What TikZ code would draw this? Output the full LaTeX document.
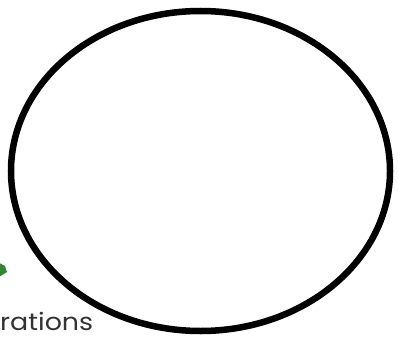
\documentclass[tikz,border=0pt]{standalone}
\usepackage{fontspec}
\setmainfont{Poppins}
\newfontfamily\lblfont[FakeStretch=1.12]{Poppins}
\usetikzlibrary{shapes.geometric}
\begin{document}
\begin{tikzpicture}[x=1pt,y=1pt,
  ring/.style={draw=black,line width=6.5pt},
  lbl/.style={font=\lblfont\fontsize{24}{26}\selectfont,text=black!80,inner sep=0pt}]
\useasboundingbox (0,0) rectangle (398,338);
\begin{scope}
\clip (0,0) rectangle (398,338);
\fill[green!40!black!80] (-6,58) -- (7,66) -- (5,72) -- (-6,78) -- cycle;
\node[lbl,anchor=base west] (t) at (0,8) {rations};
\node[ring,ellipse,minimum width=379pt,minimum height=320pt,inner sep=0pt] (e) at (200.5,167) {};
\end{scope}
\end{tikzpicture}
\end{document}
